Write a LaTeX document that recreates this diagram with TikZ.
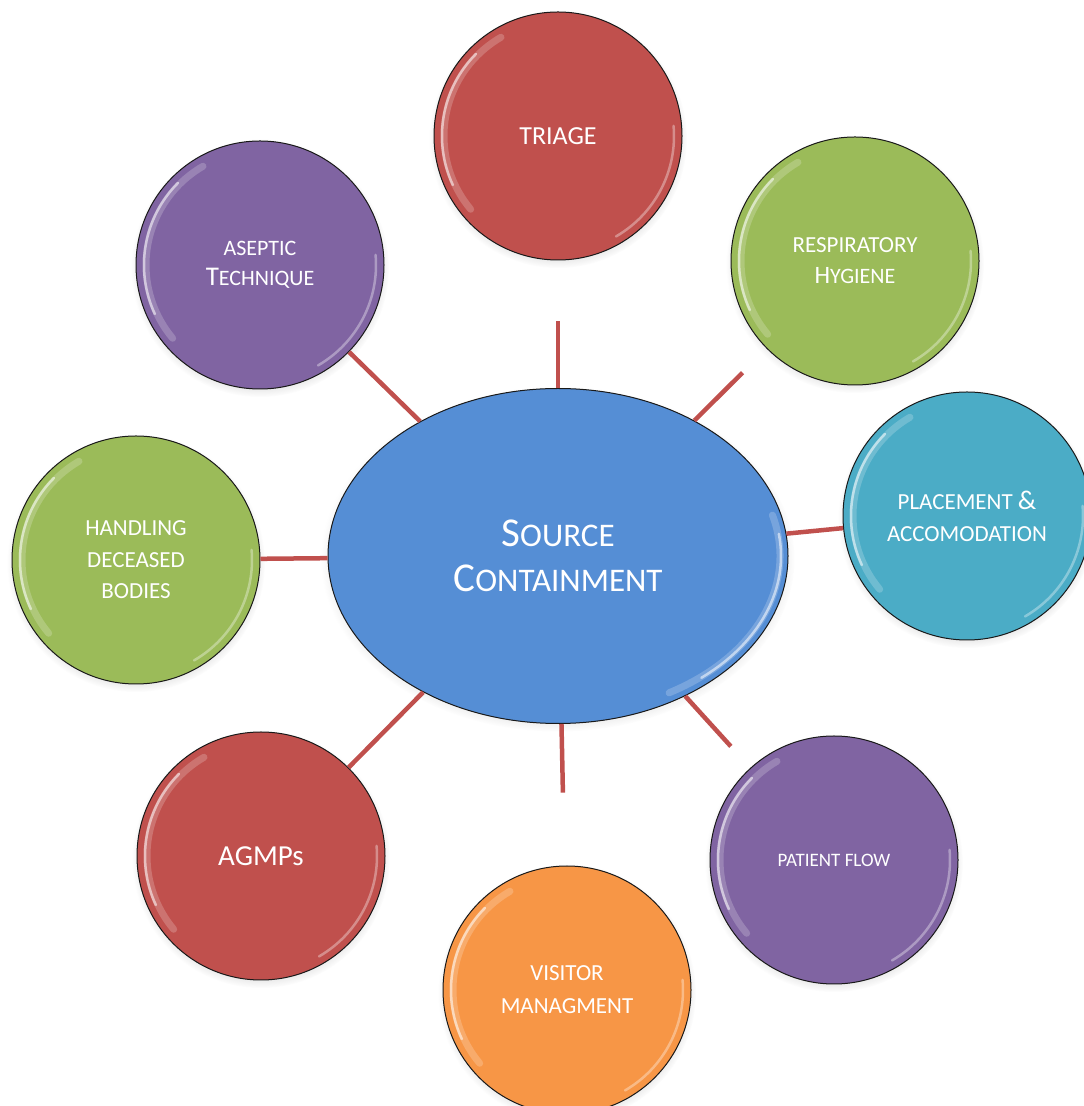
\documentclass[tikz,border=0pt]{standalone}
\usepackage{fontspec}
\setmainfont{Carlito}
\usetikzlibrary{shapes.geometric,shadows}
\definecolor{ballred}{HTML}{C0504D}
\definecolor{ballgreen}{HTML}{9BBB59}
\definecolor{ballpurple}{HTML}{8064A2}
\definecolor{ballteal}{HTML}{4BACC6}
\definecolor{ballorange}{HTML}{F79646}
\definecolor{hubblue}{HTML}{558ED5}
\definecolor{spoke}{HTML}{C0504D}
\newcommand{\initial}[2][26]{{\fontsize{#1}{#1}\selectfont #2}}
\newcommand{\fsz}[2]{\fontsize{#1}{#2}\selectfont}

\begin{document}
\begin{tikzpicture}[x=1pt, y=1pt,
    ball/.style={circle, draw=black!90, line width=1pt, minimum size=248pt, inner sep=0pt,
      text=white, align=center,
      circular drop shadow={shadow scale=1.04, shadow xshift=0pt, shadow yshift=-3pt, opacity=0.35},
      path picture={
        \draw[white, opacity=0.2, line width=7pt, line cap=round] (path picture bounding box.center)
          ++(120:114pt) arc[start angle=120, end angle=220, radius=114pt];
        \draw[white, opacity=0.55, line width=2.5pt, line cap=round] (path picture bounding box.center)
          ++(135:116pt) arc[start angle=135, end angle=205, radius=116pt];
        \draw[white, opacity=0.35, line width=2.5pt, line cap=round] (path picture bounding box.center)
          ++(-60:116pt) arc[start angle=-60, end angle=5, radius=116pt];
      }},
    hub/.style={ellipse, draw=black!90, line width=1pt, minimum width=460pt, minimum height=335pt,
      inner sep=0pt, fill=hubblue, text=white, align=center,
      circular drop shadow={shadow scale=1.03, shadow xshift=0pt, shadow yshift=-3pt, opacity=0.35},
      path picture={
        \draw[white, opacity=0.2, line width=7pt, line cap=round] (path picture bounding box.center)
          ++(-60:{222pt} and {158pt}) arc[start angle=-60, end angle=15, x radius=222pt, y radius=158pt];
        \draw[white, opacity=0.55, line width=2.5pt, line cap=round] (path picture bounding box.center)
          ++(-50:{223pt} and {159pt}) arc[start angle=-50, end angle=8, x radius=223pt, y radius=159pt];
      }},
    link/.style={draw=spoke, line width=4.5pt}]
  \useasboundingbox (0,0) rectangle (1084,1106);

  \node (src) at (558,550) [hub, font=\fsz{33}{45}] {\initial[41]{S}OURCE\\\initial[41]{C}ONTAINMENT};

  \node (triage) at (558,970) [ball, fill=ballred, font=\fsz{26}{30}] {TRIAGE};
  \node (resp) at (855,845) [ball, fill=ballgreen, font=\fsz{23}{31}] {RESPIRATORY\\\initial[25]{H}{\fsz{22}{31}YGIENE}};
  \node (place) at (967,590) [ball, fill=ballteal, font=\fsz{23}{32}] {PLACEMENT \initial[27]{\&}\\ACCOMODATION};
  \node (flow) at (834,246) [ball, fill=ballpurple, font=\fsz{19}{22}] {PATIENT FLOW};
  \node (visitor) at (567,116) [ball, fill=ballorange, font=\fsz{23}{33}] {VISITOR\\MANAGMENT};
  \node (agmps) at (261,250) [ball, fill=ballred, font=\fsz{29}{33}] {AGMPs};
  \node (handling) at (136,546) [ball, fill=ballgreen, font=\fsz{23}{31.5}] {HANDLING\\DECEASED\\BODIES};
  \node (aseptic) at (260,841) [ball, fill=ballpurple, font=\fsz{22}{30}] {ASEPTIC\\\initial[27]{T}ECHNIQUE};

  \draw [link, shorten >=61pt] (src) -- (triage);
  \draw [link, shorten >=34pt] (src) -- (resp);
  \draw [link] (src) -- (place);
  \draw [link, shorten >=29pt] (src) -- (flow);
  \draw [link, shorten >=73pt] (src) -- (visitor);
  \draw [link] (src) -- (agmps);
  \draw [link] (src) -- (handling);
  \draw [link] (src) -- (aseptic);
\end{tikzpicture}
\end{document}
